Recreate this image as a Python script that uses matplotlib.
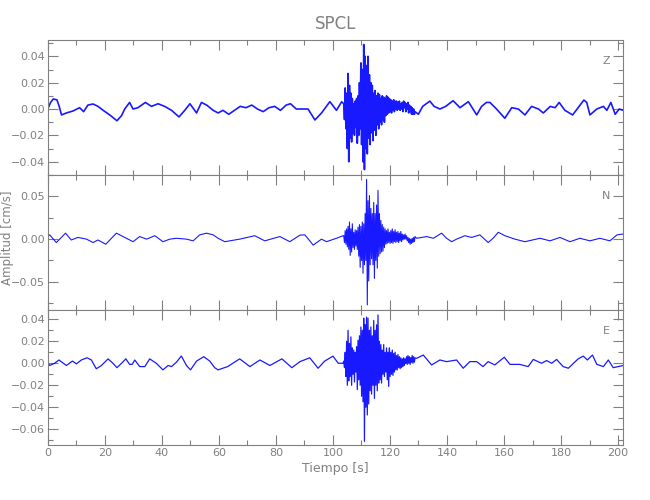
import matplotlib
matplotlib.use("Agg")
import matplotlib.pyplot as plt
from matplotlib.ticker import MultipleLocator
import numpy as np

plt.rcParams['font.family'] = ['DejaVu Sans']

# slow background samples (time [s], amplitude [cm/s])
z_t = [0.0, 1.01, 1.92, 3.22, 4.03, 4.84, 6.55, 8.87, 11.18, 12.59, 14.1, 15.92, 17.63, 19.44,
       21.76, 24.28, 25.89, 27.0, 28.71, 29.92, 31.63, 34.25, 36.37, 38.68, 41.0, 43.42, 46.04,
       48.05, 49.87, 52.18, 53.9, 55.71, 58.03, 59.74, 61.45, 63.47, 65.48, 67.5, 69.51, 71.53,
       73.54, 75.55, 77.57, 79.58, 81.6, 83.61, 85.13, 87.14, 88.45, 91.27, 93.69, 96.0, 98.93,
       101.24, 103.06, 129.95, 131.46, 133.98, 135.49, 137.51, 139.52, 142.14, 144.56, 147.48,
       150.41, 152.12, 153.83, 155.04, 157.35, 160.27, 162.69, 165.01, 167.33, 169.64, 172.06,
       173.77, 176.19, 177.9, 179.31, 181.33, 184.05, 185.96, 187.98, 188.99, 190.1, 192.52,
       194.83, 196.04, 197.45, 198.96, 200.37, 201.8]
z_v = [0.0, 0.005, 0.0076, 0.007, 0.002, -0.0045, -0.003, -0.0015, 0.001, -0.002, 0.003, 0.0038,
       0.002, -0.001, -0.0045, -0.0089, -0.005, 0.0, 0.005, 0.0, 0.001, 0.005, 0.002, 0.004,
       0.002, -0.001, -0.006, -0.001, 0.004, -0.003, 0.005, 0.003, -0.001, -0.003, -0.001,
       -0.004, -0.001, 0.002, 0.001, 0.003, 0.0, -0.002, 0.001, 0.002, -0.001, 0.003, 0.004,
       0.0, 0.0, 0.0, -0.0083, -0.003, 0.0056, -0.001, 0.0055, -0.004, 0.002, 0.006, 0.002,
       0.0, 0.002, 0.0063, 0.001, 0.0056, -0.0045, 0.002, 0.005, 0.005, 0.0, -0.007, 0.001,
       0.0, -0.0045, 0.002, 0.0, -0.003, 0.002, 0.001, 0.005, -0.001, -0.0045, 0.001, 0.0068,
       0.005, -0.0045, 0.0, 0.002, -0.001, 0.005, -0.004, 0.0, -0.001]

n_t = [0.0, 0.71, 3.02, 6.25, 8.26, 10.58, 13.6, 15.92, 17.63, 20.35, 24.08, 26.39, 29.92, 32.24,
       34.66, 37.58, 40.4, 42.82, 45.13, 48.66, 50.98, 53.29, 55.71, 58.03, 59.74, 62.1, 67.3,
       72.6, 76.1, 81.4, 84.9, 88.45, 90.16, 93.08, 96.0, 97.72, 101.24, 103.56, 129.35, 132.88,
       135.2, 138.11, 139.83, 141.64, 143.35, 146.27, 148.59, 151.51, 154.43, 156.14, 157.96,
       160.3, 163.8, 167.3, 172.6, 176.1, 179.6, 183.1, 186.6, 190.1, 193.6, 197.1, 199.6, 201.8]
n_v = [0.003, 0.005, -0.004, 0.007, -0.001, 0.002, 0.0, -0.004, -0.001, -0.006, 0.007, 0.003,
       -0.003, 0.003, 0.0, 0.004, -0.003, 0.0, 0.001, 0.0, -0.002, 0.005, 0.007, 0.005, 0.001,
       -0.003, 0.0, 0.004, -0.002, 0.003, -0.003, 0.0047, 0.005, -0.007, 0.0, -0.003, 0.001,
       0.004, 0.001, 0.003, 0.001, 0.007, 0.001, -0.003, 0.0, 0.004, 0.002, 0.005, -0.004,
       0.001, 0.008, 0.004, 0.0, -0.003, 0.001, -0.002, 0.002, -0.003, 0.001, -0.002, 0.001,
       -0.002, 0.005, 0.006]

e_t = [0.0, 0.71, 2.42, 3.93, 6.55, 8.66, 10.07, 11.79, 13.8, 15.31, 17.03, 18.84, 21.16, 22.87,
       24.28, 25.89, 27.4, 28.71, 29.62, 30.53, 32.24, 34.05, 35.76, 38.08, 40.4, 42.21, 43.42,
       45.13, 46.85, 48.66, 50.07, 52.18, 54.7, 56.82, 58.53, 59.74, 63.1, 67.3, 70.9, 74.4,
       77.9, 82.1, 85.6, 88.45, 91.88, 94.8, 97.11, 100.03, 101.85, 103.56, 129.35, 131.67,
       134.59, 137.51, 139.83, 143.35, 145.67, 147.99, 150.41, 152.62, 154.43, 156.75, 160.07,
       162.09, 165.52, 168.44, 170.25, 173.17, 174.89, 176.7, 178.41, 180.72, 182.54, 184.35,
       185.96, 187.78, 189.19, 191.0, 192.52, 194.83, 196.55, 198.26, 200.07, 201.8]
e_v = [0.0005, -0.002, 0.0, 0.003, -0.002, 0.002, -0.0005, 0.003, 0.005, 0.003, -0.005, -0.002,
       0.004, 0.0, -0.004, 0.0, 0.004, -0.001, -0.001, 0.003, -0.003, -0.003, 0.004, 0.0, -0.006,
       -0.002, -0.003, 0.001, 0.0066, -0.002, -0.006, 0.002, 0.006, 0.002, -0.004, -0.006,
       -0.003, 0.004, -0.003, 0.003, -0.002, 0.004, -0.004, 0.0015, 0.005, -0.0045, 0.002,
       0.0065, 0.0, 0.0, 0.0045, 0.0075, -0.0015, 0.003, 0.0015, 0.003, -0.0045, 0.0015, 0.0015,
       -0.003, 0.0015, -0.0015, 0.0055, -0.001, -0.001, -0.003, 0.0035, 0.0, 0.0025, 0.0,
       0.0035, -0.003, -0.0045, 0.0, 0.004, 0.0065, 0.003, 0.0075, -0.001, -0.003, 0.003,
       -0.004, -0.003, -0.002]

# event window: samples every 0.25 s from 103.8 s
burst_t0 = 103.8
burst_dt = 0.25
z_burst = [0.004, -0.008, 0.016, -0.015, 0.012, -0.030, 0.027, -0.040, 0.018, -0.022, 0.012, -0.025,
           0.008, -0.018, 0.004, -0.020, 0.006, -0.014, 0.008, -0.026, 0.010, -0.020, 0.020, -0.015,
           0.035, -0.027, 0.030, -0.040, 0.049, -0.046, 0.040, -0.030, 0.033, -0.034, 0.040, -0.022,
           0.026, -0.027, 0.020, -0.018, 0.018, -0.024, 0.012, -0.016, 0.014, -0.020, 0.010, -0.012,
           0.012, -0.015, 0.011, -0.010, 0.008, -0.012, 0.010, -0.008, 0.009, -0.010, 0.008, -0.005,
           0.010, -0.004, 0.009, -0.003, 0.008, -0.002, 0.007, -0.003, 0.006, -0.001, 0.007, -0.002,
           0.006, 0.000, 0.006, -0.001, 0.005, 0.000, 0.006, -0.001, 0.004, 0.000, 0.005, -0.002,
           0.006, 0.001, 0.005, -0.002, 0.004, 0.000, 0.005, -0.003, 0.003, -0.002, 0.002, -0.004,
           0.001, -0.004, 0.000, -0.004, -0.002]
n_burst = [0.004, -0.004, 0.010, -0.006, 0.012, -0.009, 0.015, -0.012, 0.020, -0.019, 0.012, -0.015,
           0.018, -0.010, 0.008, -0.012, 0.011, -0.008, 0.010, -0.012, 0.014, -0.020, 0.017, -0.033,
           0.015, -0.025, 0.020, -0.040, 0.018, -0.030, 0.030, -0.025, 0.070, -0.077, 0.045, -0.049,
           0.051, -0.030, 0.036, -0.023, 0.030, -0.030, 0.043, -0.046, 0.030, -0.025, 0.040, -0.034,
           0.057, -0.020, 0.030, -0.017, 0.022, -0.015, 0.017, -0.014, 0.014, -0.010, 0.012, -0.006,
           0.010, -0.005, 0.012, -0.004, 0.008, -0.005, 0.010, -0.004, 0.012, -0.005, 0.009, -0.003,
           0.011, -0.004, 0.008, -0.003, 0.009, -0.004, 0.007, -0.002, 0.009, -0.003, 0.006, -0.001,
           0.005, 0.000, 0.006, 0.000, 0.004, -0.002, 0.002, -0.004, 0.001, -0.006, 0.000, -0.005,
           0.001, -0.004, 0.002, -0.003, 0.003]
e_burst = [0.002, -0.004, 0.010, -0.012, 0.020, -0.020, 0.030, -0.016, 0.018, -0.012, 0.024, -0.020,
           0.014, -0.010, 0.012, -0.017, 0.010, -0.008, 0.015, -0.024, 0.021, -0.015, 0.025, -0.020,
           0.033, -0.030, 0.030, -0.035, 0.041, -0.071, 0.035, -0.040, 0.042, -0.047, 0.041, -0.037,
           0.030, -0.025, 0.033, -0.028, 0.025, -0.020, 0.039, -0.032, 0.030, -0.020, 0.035, -0.025,
           0.044, -0.018, 0.020, -0.015, 0.017, -0.018, 0.012, -0.010, 0.017, -0.012, 0.010, -0.008,
           0.014, -0.015, 0.010, -0.021, 0.014, -0.012, 0.010, -0.010, 0.012, -0.011, 0.009, -0.008,
           0.010, -0.006, 0.007, -0.006, 0.008, -0.004, 0.006, -0.005, 0.005, -0.004, 0.004, -0.003,
           0.005, -0.002, 0.004, 0.000, 0.006, -0.001, 0.007, 0.000, 0.006, -0.001, 0.005, 0.001,
           0.007, 0.000, 0.006, 0.001, 0.005]

components = ['Z', 'N', 'E']
ylims = [(-0.0501, 0.0524), (-0.0824, 0.0751), (-0.0743, 0.0489)]
majors = [0.02, 0.05, 0.02]
minors = [0.01, 0.025, 0.01]
widths = [1.2, 0.8, 0.9]

gray = '#808080'


def build(bt, bv, burst):
    tb = burst_t0 + burst_dt * np.arange(len(burst))
    bt = np.asarray(bt)
    bv = np.asarray(bv)
    keep = (bt < tb[0]) | (bt > tb[-1])
    t = np.concatenate([bt[keep], tb])
    v = np.concatenate([bv[keep], np.asarray(burst)])
    order = np.argsort(t)
    return t[order], v[order]


traces = [build(z_t, z_v, z_burst), build(n_t, n_v, n_burst), build(e_t, e_v, e_burst)]

fig = plt.figure(figsize=(6.5, 5.0), dpi=100)
bounds = [(0.65, 0.92), (0.381, 0.65), (0.11, 0.381)]
axes = []
for i, (b0, b1) in enumerate(bounds):
    ax = fig.add_axes([0.0734, b0, 0.8855, b1 - b0])
    t, v = traces[i]
    ax.plot(t, v, color='#0000ff', lw=widths[i], alpha=0.9)
    ax.set_xlim(0, 201.8)
    ax.set_ylim(*ylims[i])
    ax.xaxis.set_major_locator(MultipleLocator(20))
    ax.xaxis.set_minor_locator(MultipleLocator(10))
    ax.yaxis.set_major_locator(MultipleLocator(majors[i]))
    ax.yaxis.set_minor_locator(MultipleLocator(minors[i]))
    ax.tick_params(which='both', direction='in', top=True, right=True, colors=gray,
                   labelsize=8, labelcolor=gray, width=0.8, pad=2)
    ax.tick_params(which='major', length=7)
    ax.tick_params(which='minor', length=3.5)
    for s in ax.spines.values():
        s.set_color(gray)
        s.set_linewidth(0.8)
    ax.text(0.97, 0.845, components[i], transform=ax.transAxes, color=gray,
            fontsize=8, ha='center', va='center')
    if i < 2:
        ax.tick_params(labelbottom=False)
    axes.append(ax)

axes[0].set_title('SPCL', color=gray, fontsize=12, pad=8)
axes[2].set_xlabel('Tiempo [s]', color=gray, fontsize=9, labelpad=3)
fig.text(0.011, 0.524, 'Amplitud [cm/s]', rotation=90, color=gray, fontsize=8.5,
         ha='center', va='center')

fig.savefig('out.png', dpi=100)
